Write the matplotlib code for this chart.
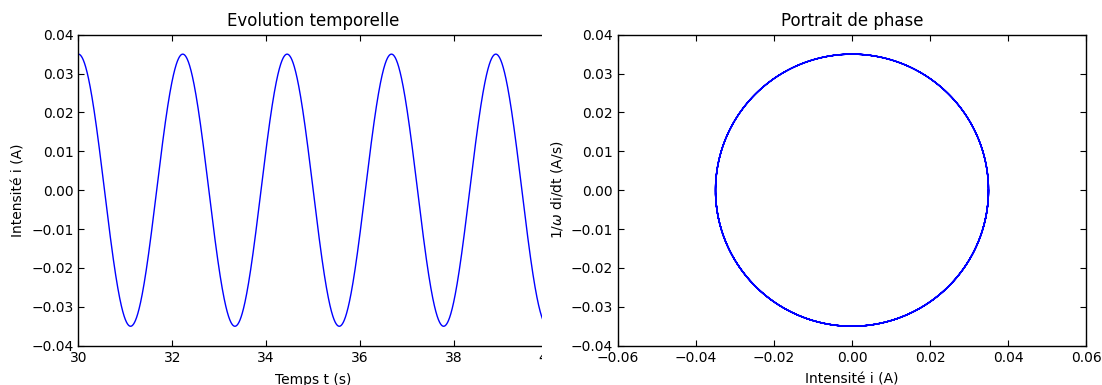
import numpy as np
import matplotlib
matplotlib.use("Agg")
import matplotlib.pyplot as plt
from matplotlib.patches import Rectangle

# --- values ---
amplitude = 0.035          # A, peak current
period = 2.2245            # s, oscillation period
t_peak = 30.0              # s, time of a maximum
t_start, t_end = 30.0, 40.0

left_title = "Evolution temporelle"
right_title = "Portrait de phase"
left_xlabel = "Temps t (s)"
left_ylabel = "Intensité i (A)"
right_xlabel = "Intensité i (A)"
right_ylabel = r"1/$\omega$ di/dt (A/s)"

left_xticks = [30, 32, 34, 36, 38, 40]
yticks = [-0.04, -0.03, -0.02, -0.01, 0.00, 0.01, 0.02, 0.03, 0.04]
right_xticks = [-0.06, -0.04, -0.02, 0.00, 0.02, 0.04, 0.06]

omega = 2 * np.pi / period
t = np.linspace(t_start, t_end, 2000)
i = amplitude * np.cos(omega * (t - t_peak))
di_over_omega = -amplitude * np.sin(omega * (t - t_peak))

plt.rcParams.update({
    "font.family": ["DejaVu Sans"],
    "font.size": 10,
    "xtick.direction": "in",
    "ytick.direction": "in",
    "xtick.top": True,
    "ytick.right": True,
    "xtick.major.size": 4,
    "ytick.major.size": 4,
    "axes.linewidth": 1.0,
    "mathtext.fontset": "dejavusans",
})

W, H = 1102, 385
fig = plt.figure(figsize=(W / 100, H / 100), dpi=100)
fig.patch.set_facecolor("white")

ax1 = fig.add_axes([78.4 / W, 39.3 / H, 469.1 / W, 311 / H], zorder=0)
ax2 = fig.add_axes([618 / W, 39.3 / H, 468 / W, 311 / H], zorder=2)

ax1.plot(t, i, color="blue", lw=1.0)
ax1.set_xlim(t_start, t_end)
ax1.set_ylim(-0.04, 0.04)
ax1.set_xticks(left_xticks)
ax1.set_xticklabels([str(v) for v in left_xticks])
ax1.set_yticks(yticks)
ax1.set_yticklabels([f"{v:.2f}".replace("-", "\u2212") for v in yticks])
ax1.set_title(left_title, fontsize=12)
ax1.set_xlabel(left_xlabel, labelpad=6)
ax1.set_ylabel(left_ylabel)

ax2.plot(i, di_over_omega, color="blue", lw=1.0)
ax2.set_xlim(-0.06, 0.06)
ax2.set_ylim(-0.04, 0.04)
ax2.set_xticks(right_xticks)
ax2.set_xticklabels([f"{v:.2f}".replace("-", "\u2212") for v in right_xticks])
ax2.set_yticks(yticks)
ax2.set_yticklabels([f"{v:.2f}".replace("-", "\u2212") for v in yticks])
ax2.set_title(right_title, fontsize=12)
ax2.set_xlabel(right_xlabel, labelpad=6)
ax2.set_ylabel(right_ylabel)

# white band hiding the right edge of the left panel (as in the reference)
cover = Rectangle((542 / W, 0), (617.5 - 542) / W, 1, transform=fig.transFigure,
                  facecolor="white", edgecolor="none", zorder=1)
fig.add_artist(cover)

fig.savefig("out.png", dpi=100, facecolor="white")
